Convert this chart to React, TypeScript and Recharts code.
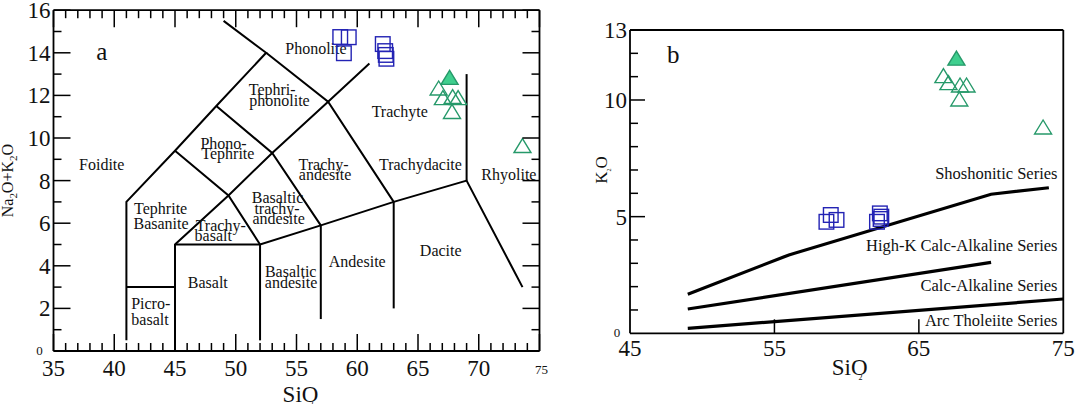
import React from "react";
import { ScatterChart, Scatter, XAxis, YAxis } from "recharts";

const FONT = '"Liberation Serif", "Times New Roman", Times, serif';
const BLUE = "#2323b4";
const GREEN = "#26996a";
const GREEN_FILL = "#3fcf8e";

// ---- panel a : TAS diagram ----
const aXTicks = [35, 36, 37, 38, 39, 40, 41, 42, 43, 44, 45, 46, 47, 48, 49, 50, 51, 52, 53, 54, 55, 56, 57, 58, 59, 60, 61, 62, 63, 64, 65, 66, 67, 68, 69, 70, 71, 72, 73, 74, 75];
const aXLabels = [35, 40, 45, 50, 55, 60, 65, 70];
const aYTicks = [0, 1, 2, 3, 4, 5, 6, 7, 8, 9, 10, 11, 12, 13, 14, 15, 16];
const aYLabels = [2, 4, 6, 8, 10, 12, 14, 16];

// field boundaries (SiO2, Na2O+K2O)
const tasBoundaries: number[][][] = [
  [[41, 0.5], [41, 7], [45, 9.4], [48.4, 11.5], [52.5, 14], [49, 15.5]],
  [[41, 3], [45, 3]],
  [[45, 0], [45, 5], [49.4, 7.3], [53, 9.3], [57.6, 11.7], [61, 13.5]],
  [[45, 5], [52, 5], [57, 5.9], [63, 7], [69, 8], [73.6, 3]],
  [[52, 0.5], [52, 5]],
  [[57, 1.5], [57, 5.9]],
  [[63, 2], [63, 7]],
  [[69, 8], [69, 13]],
  [[52.5, 14], [57.6, 11.7], [63, 7]],
  [[48.4, 11.5], [53, 9.3], [57, 5.9]],
  [[45, 9.4], [49.4, 7.3], [52, 5]],
];

const tasFieldLabels = [
  { text: "Phonolite", x: 56.6, y: 14.2 },
  { text: "Tephri-", x: 53.0, y: 12.25 },
  { text: "phonolite", x: 53.6, y: 11.75 },
  { text: "Phono-", x: 49.0, y: 9.72 },
  { text: "Tephrite", x: 49.35, y: 9.25 },
  { text: "Foidite", x: 38.97, y: 8.73 },
  { text: "Trachyte", x: 63.5, y: 11.24 },
  { text: "Trachy-", x: 57.23, y: 8.76 },
  { text: "andesite", x: 57.35, y: 8.26 },
  { text: "Trachydacite", x: 65.2, y: 8.73 },
  { text: "Rhyolite", x: 72.48, y: 8.26 },
  { text: "Tephrite", x: 43.82, y: 6.7 },
  { text: "Basanite", x: 43.85, y: 5.96 },
  { text: "Basaltic", x: 53.44, y: 7.2 },
  { text: "trachy-", x: 53.4, y: 6.7 },
  { text: "andesite", x: 53.53, y: 6.2 },
  { text: "Trachy-", x: 48.76, y: 5.88 },
  { text: "basalt", x: 48.15, y: 5.41 },
  { text: "Basalt", x: 47.7, y: 3.21 },
  { text: "Basaltic", x: 54.52, y: 3.72 },
  { text: "andesite", x: 54.55, y: 3.21 },
  { text: "Andesite", x: 60.0, y: 4.19 },
  { text: "Dacite", x: 66.87, y: 4.71 },
  { text: "Picro-", x: 43.0, y: 2.21 },
  { text: "basalt", x: 42.94, y: 1.49 },
];

// ---- samples ----
const squareSiO2 = [58.6, 58.9, 59.3, 62.1, 62.3, 62.4, 62.35];
const squareAlkali = [14.74, 13.98, 14.73, 14.41, 14.08, 13.72, 13.9];
const squareK2O = [4.78, 5.07, 4.86, 4.78, 5.14, 5.0, 4.9];

const triangleSiO2 = [67.6, 66.7, 67.05, 67.85, 68.3, 67.8, 73.6];
const triangleAlkali = [12.8, 12.3, 11.85, 11.9, 11.85, 11.2, 9.6];
const triangleK2O = [11.75, 11.0, 10.7, 10.6, 10.6, 10.0, 8.8];
const triangleFilled = [true, false, false, false, false, false, false];

// ---- panel b : K2O vs SiO2 ----
const bXTicks = [45, 55, 65, 75];
const bYTicks = [0, 1, 2, 3, 4, 5, 6, 7, 8, 9, 10, 11, 12, 13];
const bYLabels = [5, 10, 13];

const shoshoniticLine = [[49, 1.67], [56, 3.36], [70, 5.96], [74, 6.24]];
const highKLine = [[49, 1.04], [70, 3.04]];
const calcAlkLine = [[49, 0.21], [75, 1.47]];
const seriesNames = ["Shoshonitic Series", "High-K Calc-Alkaline Series", "Calc-Alkaline Series", "Arc Tholeiite Series"];
const seriesLabelY = [6.86, 3.78, 2.03, 0.53];
const seriesLabelX = 74.6;

const toPts = (line: number[][]) => line.map(([x, y]) => ({ x, y }));
const squaresA = squareSiO2.map((x, i) => ({ x, y: squareAlkali[i] }));
const squaresB = squareSiO2.map((x, i) => ({ x, y: squareK2O[i] }));
const trianglesA = triangleSiO2.map((x, i) => ({ x, y: triangleAlkali[i], filled: triangleFilled[i] }));
const trianglesB = triangleSiO2.map((x, i) => ({ x, y: triangleK2O[i], filled: triangleFilled[i] }));
const seriesLabels = seriesNames.map((text, i) => ({ text, x: seriesLabelX, y: seriesLabelY[i] }));

const txt = { fontFamily: FONT, fill: "#111", style: { fontFamily: FONT } };

const Empty = () => <g />;

const SquareMark = (p: any) => (
  <rect x={p.cx - 7.3} y={p.cy - 7.3} width={14.6} height={14.6} fill="none" stroke={BLUE} strokeWidth={1.4} />
);

const TriangleMark = (p: any) => (
  <polygon
    points={`${p.cx},${p.cy - 8} ${p.cx - 8.5},${p.cy + 6} ${p.cx + 8.5},${p.cy + 6}`}
    fill={p.payload.filled ? GREEN_FILL : "none"}
    stroke={GREEN}
    strokeWidth={1.4}
  />
);

const FieldLabel = (p: any) => (
  <text x={p.cx} y={p.cy} dy="0.33em" textAnchor="middle" fontSize={16} {...txt}>
    {p.payload.text}
  </text>
);

const SeriesLabel = (p: any) => (
  <text x={p.cx} y={p.cy} dy="0.33em" textAnchor="end" fontSize={16.5} {...txt}>
    {p.payload.text}
  </text>
);

const PanelLetter = (letter: string) => (p: any) => (
  <text x={p.cx} y={p.cy} dy="0.33em" textAnchor="middle" fontSize={25} {...txt}>
    {letter}
  </text>
);

// panel a ticks
const ABottomTick = (p: any) => {
  const v = p.payload.value;
  const major = v % 5 === 0;
  return (
    <g>
      <line x1={p.x} x2={p.x} y1={p.y} y2={p.y - (major ? 17 : 8)} stroke="#000" strokeWidth={1.5} />
      {aXLabels.includes(v) && (
        <text x={p.x} y={p.y + 25} textAnchor="middle" fontSize={23} {...txt}>{v}</text>
      )}
      {v === 75 && (
        <text x={p.x + 2} y={p.y + 23} textAnchor="middle" fontSize={13} {...txt}>{v}</text>
      )}
    </g>
  );
};

const ATopTick = (p: any) => {
  const major = p.payload.value % 5 === 0;
  return <line x1={p.x} x2={p.x} y1={p.y} y2={p.y + (major ? 17 : 8)} stroke="#000" strokeWidth={1.5} />;
};

const ALeftTick = (p: any) => {
  const v = p.payload.value;
  const major = v % 2 === 0;
  return (
    <g>
      <line x1={p.x} x2={p.x + (major ? 17 : 8)} y1={p.y} y2={p.y} stroke="#000" strokeWidth={1.5} />
      {aYLabels.includes(v) && (
        <text x={p.x - 3} y={p.y + 8} textAnchor="end" fontSize={23} {...txt}>{v}</text>
      )}
      {v === 0 && (
        <text x={p.x - 14} y={p.y + 4} textAnchor="middle" fontSize={13} {...txt}>0</text>
      )}
    </g>
  );
};

const ARightTick = (p: any) => {
  const major = p.payload.value % 2 === 0;
  return <line x1={p.x} x2={p.x - (major ? 17 : 8)} y1={p.y} y2={p.y} stroke="#000" strokeWidth={1.5} />;
};

// panel b ticks
const BBottomTick = (p: any) => {
  const v = p.payload.value;
  const inner = v !== 45 && v !== 75;
  return (
    <g>
      {inner && <line x1={p.x} x2={p.x} y1={p.y} y2={p.y - 14} stroke="#000" strokeWidth={1.5} />}
      <text x={p.x} y={p.y + 23} textAnchor="middle" fontSize={23} {...txt}>{v}</text>
    </g>
  );
};

const BLeftTick = (p: any) => {
  const v = p.payload.value;
  const major = v === 5 || v === 10;
  return (
    <g>
      {v !== 0 && v !== 13 && (
        <line x1={p.x} x2={p.x + (major ? 15 : 8)} y1={p.y} y2={p.y} stroke="#000" strokeWidth={1.5} />
      )}
      {bYLabels.includes(v) && (
        <text x={p.x - 3} y={p.y + 8} textAnchor="end" fontSize={23} {...txt}>{v}</text>
      )}
      {v === 0 && (
        <text x={p.x - 13} y={p.y + 4} textAnchor="middle" fontSize={13} {...txt}>0</text>
      )}
    </g>
  );
};

const SiO2Title = (dx: number, baseline: number) => (props: any) => {
  const vb = props.viewBox || {};
  const x = vb.x + vb.width / 2 + dx;
  const y = vb.y + baseline;
  return (
    <text x={x} y={y} textAnchor="middle" fontSize={23} {...txt}>
      SiO<tspan dx={-9} dy={5} fontSize={8}>2</tspan>
    </text>
  );
};

const YTitle = (kind: "a" | "b", baselineDx: number, centerDy: number) => (props: any) => {
  const vb = props.viewBox || {};
  const x = vb.x + vb.width + baselineDx;
  const y = vb.y + vb.height / 2 + centerDy;
  return (
    <text x={x} y={y} textAnchor="middle" fontSize={kind === "a" ? 16 : 17} transform={`rotate(-90 ${x} ${y})`} {...txt}>
      {kind === "a" ? (
        <>
          Na<tspan dy={4} fontSize={11}>2</tspan>
          <tspan dy={-4}>O+K</tspan>
          <tspan dy={4} fontSize={11}>2</tspan>
          <tspan dy={-4}>O</tspan>
        </>
      ) : (
        <>
          K<tspan dy={4} fontSize={6}>2</tspan>
          <tspan dy={-4}>O</tspan>
        </>
      )}
    </text>
  );
};

const axisLine = { stroke: "#000", strokeWidth: 1.8 };

function PanelA() {
  return (
    <ScatterChart width={560} height={404} margin={{ top: 9.2, left: 52.5, right: 19.5, bottom: 52 }}>
      <XAxis
        type="number"
        dataKey="x"
        domain={[35, 75]}
        ticks={aXTicks}
        interval={0}
        height={1}
        tickSize={0}
        tickMargin={0}
        tickLine={false}
        axisLine={axisLine}
        tick={ABottomTick}
        label={SiO2Title(4, 51)}
      />
      <XAxis
        xAxisId="top"
        orientation="top"
        type="number"
        dataKey="x"
        domain={[35, 75]}
        ticks={aXTicks}
        interval={0}
        height={1}
        tickSize={0}
        tickMargin={0}
        tickLine={false}
        axisLine={axisLine}
        tick={ATopTick}
      />
      <YAxis
        type="number"
        dataKey="y"
        domain={[0, 16]}
        ticks={aYTicks}
        interval={0}
        width={1}
        tickSize={0}
        tickMargin={0}
        tickLine={false}
        axisLine={axisLine}
        tick={ALeftTick}
        label={YTitle("a", -40.5, 0)}
      />
      <YAxis
        yAxisId="right"
        orientation="right"
        type="number"
        dataKey="y"
        domain={[0, 16]}
        ticks={aYTicks}
        interval={0}
        width={1}
        tickSize={0}
        tickMargin={0}
        tickLine={false}
        axisLine={axisLine}
        tick={ARightTick}
      />
      <Scatter xAxisId="top" yAxisId="right" data={squaresA} shape={Empty} isAnimationActive={false} />
      {tasBoundaries.map((line, i) => (
        <Scatter
          key={i}
          data={toPts(line)}
          line={{ stroke: "#000", strokeWidth: 2 }}
          lineType="joint"
          shape={Empty}
          isAnimationActive={false}
        />
      ))}
      <Scatter data={tasFieldLabels} shape={FieldLabel} isAnimationActive={false} />
      <Scatter data={[{ x: 38.97, y: 14.05 }]} shape={PanelLetter("a")} isAnimationActive={false} />
      <Scatter data={squaresA} shape={SquareMark} isAnimationActive={false} />
      <Scatter data={trianglesA} shape={TriangleMark} isAnimationActive={false} />
    </ScatterChart>
  );
}

function PanelB() {
  return (
    <ScatterChart width={518} height={404} margin={{ top: 29, left: 69, right: 13.7, bottom: 69.7 }}>
      <XAxis
        type="number"
        dataKey="x"
        domain={[45, 75]}
        ticks={bXTicks}
        interval={0}
        height={1}
        tickSize={0}
        tickMargin={0}
        tickLine={false}
        axisLine={axisLine}
        tick={BBottomTick}
        label={SiO2Title(3, 42)}
      />
      <XAxis
        xAxisId="top"
        orientation="top"
        type="number"
        dataKey="x"
        domain={[45, 75]}
        height={1}
        tick={false}
        tickLine={false}
        axisLine={axisLine}
      />
      <YAxis
        type="number"
        dataKey="y"
        domain={[0, 13]}
        ticks={bYTicks}
        interval={0}
        width={1}
        tickSize={0}
        tickMargin={0}
        tickLine={false}
        axisLine={axisLine}
        tick={BLeftTick}
        label={YTitle("b", -23, -11.7)}
      />
      <YAxis
        yAxisId="right"
        orientation="right"
        type="number"
        dataKey="y"
        domain={[0, 13]}
        width={1}
        tick={false}
        tickLine={false}
        axisLine={axisLine}
      />
      <Scatter xAxisId="top" yAxisId="right" data={squaresB} shape={Empty} isAnimationActive={false} />
      {[shoshoniticLine, highKLine, calcAlkLine].map((line, i) => (
        <Scatter
          key={i}
          data={toPts(line)}
          line={{ stroke: "#000", strokeWidth: 3.2 }}
          lineType="joint"
          shape={Empty}
          isAnimationActive={false}
        />
      ))}
      <Scatter data={seriesLabels} shape={SeriesLabel} isAnimationActive={false} />
      <Scatter data={[{ x: 48.0, y: 11.93 }]} shape={PanelLetter("b")} isAnimationActive={false} />
      <Scatter data={squaresB} shape={SquareMark} isAnimationActive={false} />
      <Scatter data={trianglesB} shape={TriangleMark} isAnimationActive={false} />
    </ScatterChart>
  );
}

export default function App() {
  return (
    <div style={{ position: "absolute", left: 0, top: 0, width: 1078, height: 404, background: "#fff", fontFamily: FONT }}>
      <div style={{ position: "absolute", left: 0, top: 0 }}>
        <PanelA />
      </div>
      <div style={{ position: "absolute", left: 560, top: 0 }}>
        <PanelB />
      </div>
    </div>
  );
}
